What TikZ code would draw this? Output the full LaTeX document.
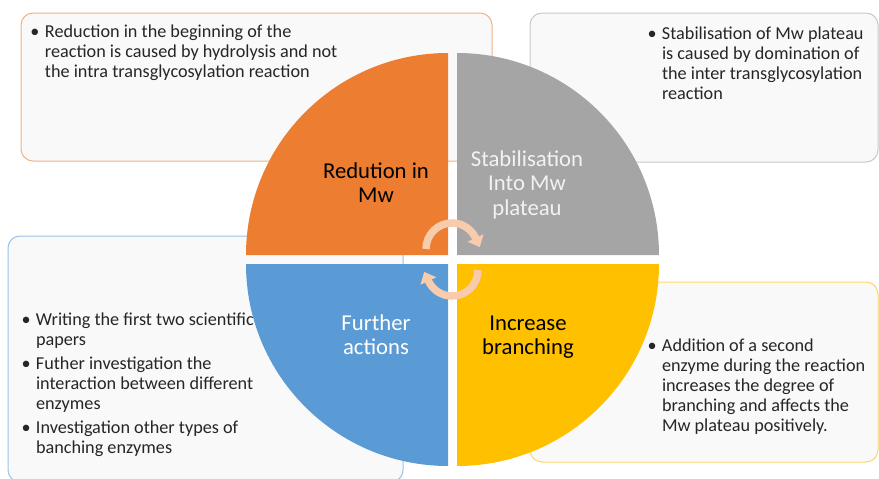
\documentclass[tikz,border=0pt]{standalone}
\usepackage{fontspec}
\setmainfont{Carlito}
\usetikzlibrary{positioning}
\usetikzlibrary{arrows.meta}

\definecolor{qorange}{HTML}{ED7D31}
\definecolor{qgray}{HTML}{A5A5A5}
\definecolor{qblue}{HTML}{5B9BD5}
\definecolor{qyellow}{HTML}{FFC000}
\definecolor{lorange}{HTML}{F4B183}
\definecolor{lgray}{HTML}{C9C9C9}
\definecolor{lblue}{HTML}{9DC3E6}
\definecolor{lyellow}{HTML}{FFD966}
\definecolor{boxfill}{HTML}{F9F9F9}
\definecolor{arrowpink}{HTML}{F8CBAD}
\definecolor{txt}{HTML}{262626}

% bullet and hanging indent for the box texts
\newcommand{\bul}{\strut\makebox[14.5pt][l]{\textbullet}}
\newcommand{\ind}{\makebox[14.5pt]{}}

\tikzset{
  infobox/.style={draw, fill=boxfill, rounded corners=12pt, line width=1pt,
    anchor=north west, inner sep=0pt, outer sep=0pt},
  boxtext/.style={align=left, inner sep=0pt, outer sep=0pt, text=txt,
    font=\fontsize{18.2}{20}\selectfont},
  quadlabel/.style={align=center, anchor=north, inner sep=0pt,
    font=\fontsize{22.7}{24.5}\selectfont},
  cyclearrow/.style={arrowpink, line width=7.5pt,
    -{Triangle[width=17pt,length=10pt]}}
}

\begin{document}
\begin{tikzpicture}[x=1pt,y=1pt]
  \useasboundingbox (0,0) rectangle (879,-479);

  % the four text boxes
  \node[infobox, draw=lorange, minimum width=471pt, minimum height=148pt] (boxred) at (21,-13) {};
  \node[infobox, draw=lgray, minimum width=348pt, minimum height=149pt] (boxgray) at (530,-13) {};
  \node[infobox, draw=lblue, minimum width=395pt, minimum height=246pt] (boxblue) at (8,-236) {};
  \node[infobox, draw=lyellow, minimum width=348pt, minimum height=180pt] (boxyellow) at (530,-282) {};

  \node[boxtext, below right=10.5pt and 9.5pt of boxred.north west] (txtred)
    {\bul Reduction in the beginning of the\\ \ind reaction is caused by hydrolysis and not\\ \ind the intra transglycosylation reaction};
  \node[boxtext, below right=12pt and 117.5pt of boxgray.north west] (txtgray)
    {\bul Stabilisation of Mw plateau\\ \ind is caused by domination of\\ \ind the inter transglycosylation\\ \ind reaction};
  \node[boxtext, below right=75pt and 13.5pt of boxblue.north west] (txtblue)
    {\bul Writing the first two scientific\\ \ind papers\\[4pt] \bul Futher investigation the\\ \ind interaction between different\\ \ind enzymes\\[4pt] \bul Investigation other types of\\ \ind banching enzymes};
  \node[boxtext, below right=55.7pt and 117.5pt of boxyellow.north west] (txtyellow)
    {\bul Addition of a second\\ \ind enzyme during the reaction\\ \ind increases the degree of\\ \ind branching and affects the\\ \ind Mw plateau positively.};

  % quarters of the circle
  \fill[qorange] (448,-255) -- (246,-255) arc[start angle=180, end angle=90, radius=202] -- cycle;
  \fill[qgray] (457,-255) -- (457,-53) arc[start angle=90, end angle=0, radius=202] -- cycle;
  \fill[qblue] (448,-264) -- (448,-466) arc[start angle=270, end angle=180, radius=202] -- cycle;
  \fill[qyellow] (457,-264) -- (659,-264) arc[start angle=0, end angle=-90, radius=202] -- cycle;

  \node[quadlabel, text=black] (lblred) at (376,-161) {\strut Redution in\\Mw};
  \node[quadlabel, text=white!95!black] (lblgray) at (527,-149) {\strut Stabilisation\\Into Mw\\plateau};
  \node[quadlabel, text=white] (lblblue) at (376,-313) {\strut Further\\actions};
  \node[quadlabel, text=black] (lblyellow) at (528,-313) {\strut Increase\\branching};

  % turning arrows in the middle
  \coordinate (upstart) at (426,-249);
  \coordinate (lowstart) at (478,-270);
  \draw[cyclearrow] (upstart) arc[start angle=180, end angle=25, radius=26] -- ++(-65:10);
  \draw[cyclearrow] (lowstart) arc[start angle=0, end angle=-155, radius=26] -- ++(115:10);
\end{tikzpicture}
\end{document}
